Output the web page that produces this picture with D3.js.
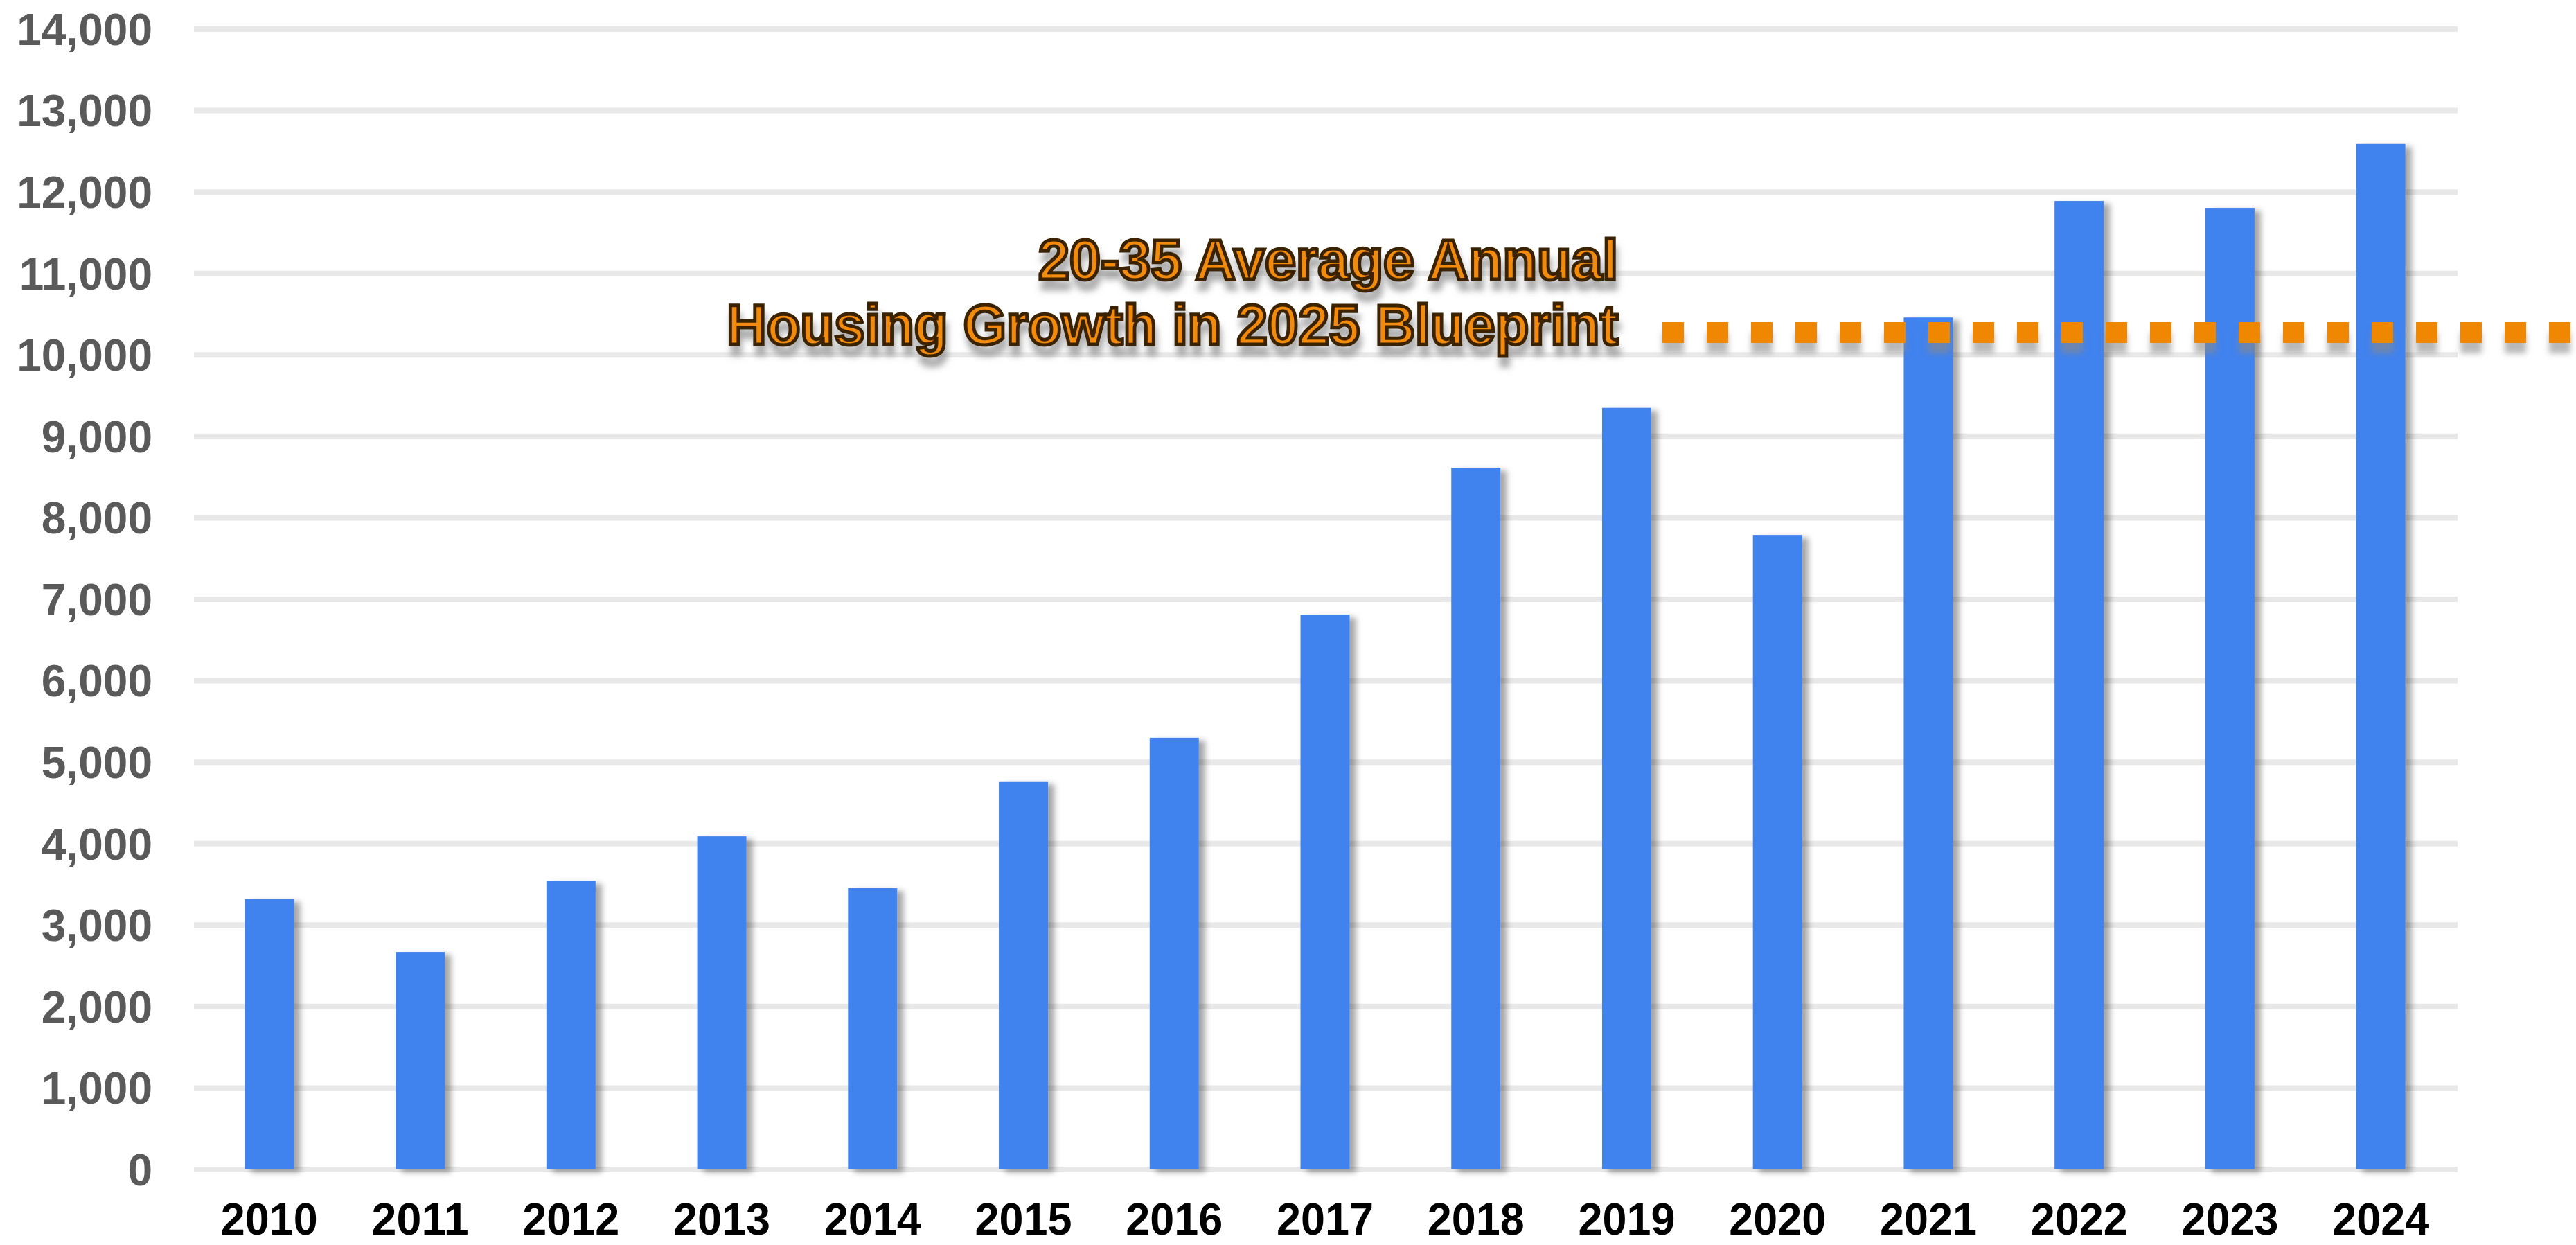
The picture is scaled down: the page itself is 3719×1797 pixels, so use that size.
<!DOCTYPE html>
<html>
<head>
<meta charset="utf-8">
<script src="https://cdn.jsdelivr.net/npm/d3@7"></script>
<style>
  html, body { margin: 0; padding: 0; background: #ffffff; }
  svg { display: block; }
</style>
</head>
<body>
<script>
// ---- Data ----
const years = ["2010","2011","2012","2013","2014","2015","2016","2017","2018","2019","2020","2021","2022","2023","2024"];
const housingUnits = [3320, 2670, 3540, 4090, 3455, 4765, 5300, 6810, 8615, 9350, 7790, 10460, 11890, 11805, 12590];
const yTicks = [0,1000,2000,3000,4000,5000,6000,7000,8000,9000,10000,11000,12000,13000,14000];
const blueprintAverage = 10275;
const annotationLines = ["20-35 Average Annual", "Housing Growth in 2025 Blueprint"];

// ---- Layout ----
const W = 3719, H = 1797;
const svg = d3.select("body").append("svg").attr("width", W).attr("height", H);

const defs = svg.append("defs");
function shadow(id, dx, dy, sd, color, op) {
  const f = defs.append("filter").attr("id", id).attr("filterUnits", "userSpaceOnUse")
    .attr("x", 0).attr("y", 0).attr("width", W).attr("height", H);
  f.append("feDropShadow").attr("dx", dx).attr("dy", dy).attr("stdDeviation", sd)
    .attr("flood-color", color).attr("flood-opacity", op);
}
shadow("barShadow", 9, 4, 4, "#000", 0.35);
shadow("dotShadow", 0, 15, 4, "#888", 0.6);
shadow("textShadow", 3, 14, 5, "#777", 0.6);

const x = d3.scaleBand().domain(years).range([280, 3546])
  .paddingInner(0.674).paddingOuter(0.337);
const y = d3.scaleLinear().domain([0, 14000]).range([1688, 42]);

// gridlines
svg.append("g").selectAll("line").data(yTicks).join("line")
  .attr("x1", 280).attr("x2", 3548)
  .attr("y1", d => y(d)).attr("y2", d => y(d))
  .attr("stroke", "#e8e8e8").attr("stroke-width", 8);

// y axis labels
const yAxis = d3.axisLeft(y).tickValues(yTicks).tickSize(0).tickPadding(0)
  .tickFormat(d3.format(","));
const yg = svg.append("g").attr("transform", "translate(220,0)").call(yAxis);
yg.select(".domain").remove();
yg.selectAll("text")
  .attr("font-family", "'Liberation Sans', Arial, sans-serif")
  .attr("font-weight", "bold").attr("font-size", 64).attr("fill", "#5a5a5a")
  .attr("dy", "0.35em");

// bars
svg.append("g").attr("filter","url(#barShadow)").selectAll("rect")
  .data(years.map((yr, i) => ({yr, v: housingUnits[i]})))
  .join("rect")
  .attr("x", d => x(d.yr)).attr("width", x.bandwidth())
  .attr("y", d => y(d.v)).attr("height", d => y(0) - y(d.v))
  .attr("fill", "#4182ee");

// x axis labels
const xAxis = d3.axisBottom(x).tickSize(0).tickPadding(0);
const xg = svg.append("g").attr("transform", "translate(0,1782)").call(xAxis);
xg.select(".domain").remove();
xg.selectAll("text")
  .attr("font-family", "'Liberation Sans', Arial, sans-serif")
  .attr("font-weight", "bold").attr("font-size", 64).attr("fill", "#000")
  .attr("dy", 0).attr("y", 0)
  .attr("textLength", 140).attr("lengthAdjust", "spacingAndGlyphs");

// dotted average line
svg.append("line")
  .attr("x1", 2400).attr("x2", W + 40)
  .attr("y1", y(blueprintAverage)).attr("y2", y(blueprintAverage))
  .attr("stroke", "#f08700").attr("stroke-width", 30)
  .attr("stroke-dasharray", "31 33")
  .attr("filter", "url(#dotShadow)");

// annotation
const ann = svg.append("g").attr("filter", "url(#textShadow)");
const annWidths = [837, 1287];
const annBaselines = [403, 497];
ann.selectAll("text").data(annotationLines).join("text")
  .attr("x", 2336).attr("y", (d, i) => annBaselines[i])
  .attr("text-anchor", "end")
  .attr("font-family", "'Liberation Sans', Arial, sans-serif")
  .attr("font-weight", "bold").attr("font-size", 82)
  .attr("textLength", (d, i) => annWidths[i]).attr("lengthAdjust", "spacingAndGlyphs")
  .attr("fill", "#f28a0a").attr("stroke", "#3a2200").attr("stroke-width", 5)
  .text(d => d);
</script>
</body>
</html>
